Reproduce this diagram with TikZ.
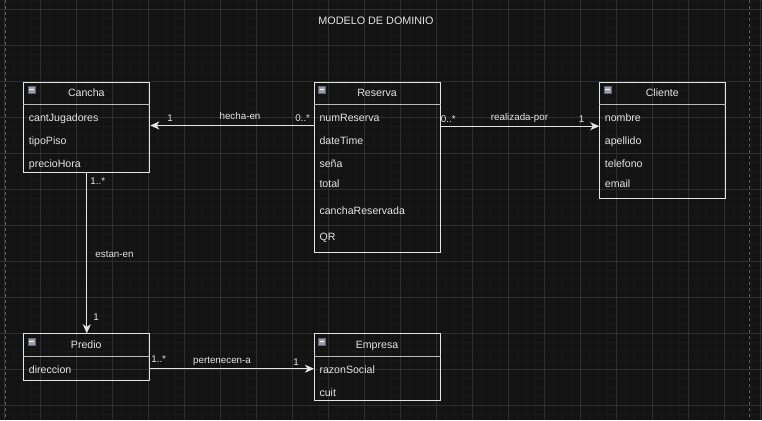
\documentclass[tikz,border=0pt]{standalone}
\usepackage{fontspec}
\setmainfont{Liberation Sans}
\usepackage{xcolor}
\usepackage{tikz}
\usetikzlibrary{
	arrows.meta
}
\definecolor{canvas}{RGB}{19,19,19}
\definecolor{grid-minor}{RGB}{25,25,25}
\definecolor{grid-major}{RGB}{46,46,46}
\definecolor{ink}{RGB}{228,228,228}
\definecolor{page-rule}{RGB}{95,95,95}
\definecolor{icon-fill}{RGB}{150,158,178}

\begin{document}
\begin{tikzpicture}[x=1pt,y=-1pt,
		class-box/.style={draw=ink,line width=1pt,anchor=north west,inner sep=0pt},
		class-name/.style={text=ink,anchor=base,inner sep=0pt,font=\fontsize{10.6}{12}\selectfont},
		attr/.style={text=ink,anchor=base west,inner sep=0pt,font=\fontsize{10.6}{12}\selectfont},
		edge-label/.style={text=ink,anchor=base,inner sep=0pt,font=\fontsize{9.8}{11}\selectfont},
		collapse-icon/.style={draw=black!60,fill=icon-fill,minimum size=7pt,inner sep=0pt},
		assoc/.style={draw=ink,line width=1pt,-{Stealth[length=9pt,width=8pt,inset=2.5pt]}}
	]
		% canvas and grid
		\fill[canvas] (0,0) rectangle (762,420);
		\useasboundingbox (0,0) rectangle (762,420);
		\foreach \gx in {4,13,...,760}
			\draw[grid-minor,line width=0.5pt] (\gx,0) -- (\gx,420);
		\foreach \gy in {0,9,...,420}
			\draw[grid-minor,line width=0.5pt] (0,\gy) -- (762,\gy);
		\foreach \gx in {4,40,...,760}
			\draw[grid-major,line width=0.8pt] (\gx,0) -- (\gx,420);
		\foreach \gy in {9,45,...,420}
			\draw[grid-major,line width=0.8pt] (0,\gy) -- (762,\gy);
		\draw[page-rule,line width=0.8pt,dash pattern=on 3pt off 3pt] (5,0) -- (5,420);
		\draw[page-rule,line width=0.8pt,dash pattern=on 3pt off 3pt] (749,0) -- (749,420);

		\node[text=ink,anchor=base,font=\fontsize{10.8}{12}\selectfont] at (376,25) (diagram-title)
			{MODELO DE DOMINIO};

		% classes
		\node[class-box,minimum width=126pt,minimum height=90pt] at (23.3,81.7) (cancha) {};
		\node[class-box,minimum width=126.6pt,minimum height=170.6pt] at (313.7,81.7) (reserva) {};
		\node[class-box,minimum width=126pt,minimum height=116.6pt] at (599.3,81.7) (cliente) {};
		\node[class-box,minimum width=126pt,minimum height=46.7pt] at (23.3,333.3) (predio) {};
		\node[class-box,minimum width=126.3pt,minimum height=66.7pt] at (314,333.3) (empresa) {};

		\foreach \cls in {cancha,reserva,cliente,predio,empresa} {
			\node[collapse-icon] at ([shift={(8,8)}]\cls.north west) (\cls-icon) {};
			\draw[white,line width=1.2pt] ([xshift=-2.2pt]\cls-icon.center) -- ([xshift=2.2pt]\cls-icon.center);
			\draw[ink!80!canvas,line width=1.4pt] ([yshift=-23pt]\cls.north west) -- ([yshift=-23pt]\cls.north east);
		}

		\node[class-name] at (86.3,96) (cancha-name) {Cancha};
		\node[attr] at (28.7,121) (cancha-jugadores) {cantJugadores};
		\node[attr] at (28.7,144) (cancha-piso) {tipoPiso};
		\node[attr] at (28.7,167) (cancha-precio) {precioHora};

		\node[class-name] at (377,96) (reserva-name) {Reserva};
		\node[attr] at (319.3,121) (reserva-num) {numReserva};
		\node[attr] at (319.3,144) (reserva-date) {dateTime};
		\node[attr] at (319.3,167) (reserva-sena) {seña};
		\node[attr] at (319.3,187) (reserva-total) {total};
		\node[attr] at (319.3,214) (reserva-cancha) {canchaReservada};
		\node[attr] at (319.3,240.5) (reserva-qr) {QR};

		\node[class-name] at (662.3,96) (cliente-name) {Cliente};
		\node[attr] at (604.7,121) (cliente-nombre) {nombre};
		\node[attr] at (604.7,144) (cliente-apellido) {apellido};
		\node[attr] at (604.7,167) (cliente-telefono) {telefono};
		\node[attr] at (604.7,187) (cliente-email) {email};

		\node[class-name] at (86.3,348.3) (predio-name) {Predio};
		\node[attr] at (28.7,373) (predio-direccion) {direccion};

		\node[class-name] at (377,348.3) (empresa-name) {Empresa};
		\node[attr] at (319.3,373) (empresa-razon) {razonSocial};
		\node[attr] at (319.3,396) (empresa-cuit) {cuit};

		% associations
		\coordinate (hecha-start) at ([yshift=42pt]reserva.west);
		\draw[assoc] (hecha-start) -- (hecha-start -| cancha.east);
		\node[edge-label] at (170,121) (hecha-one) {1};
		\node[edge-label] at (240,119.5) (hecha-name) {hecha-en};
		\node[edge-label] at (302.7,121.8) (hecha-many) {0..*};

		\coordinate (realizada-end) at ([yshift=14.3pt]cliente.west);
		\draw[assoc] (realizada-end -| reserva.east) -- (realizada-end);
		\node[edge-label] at (448.3,122.5) (realizada-many) {0..*};
		\node[edge-label] at (519.5,120.2) (realizada-name) {realizada-por};
		\node[edge-label] at (581.7,122.5) (realizada-one) {1};

		\draw[assoc] (cancha.south) -- (predio.north);
		\node[edge-label] at (97.8,184.5) (estan-many) {1..*};
		\node[edge-label] at (114.5,257.5) (estan-name) {estan-en};
		\node[edge-label] at (96,320.2) (estan-one) {1};

		\coordinate (pertenecen-end) at ([yshift=-1.6pt]empresa.west);
		\draw[assoc] (pertenecen-end -| predio.east) -- (pertenecen-end);
		\node[edge-label] at (158.7,362.2) (pertenecen-many) {1..*};
		\node[edge-label] at (222,363.5) (pertenecen-name) {pertenecen-a};
		\node[edge-label] at (296,365.5) (pertenecen-one) {1};
	\end{tikzpicture}
\end{document}
